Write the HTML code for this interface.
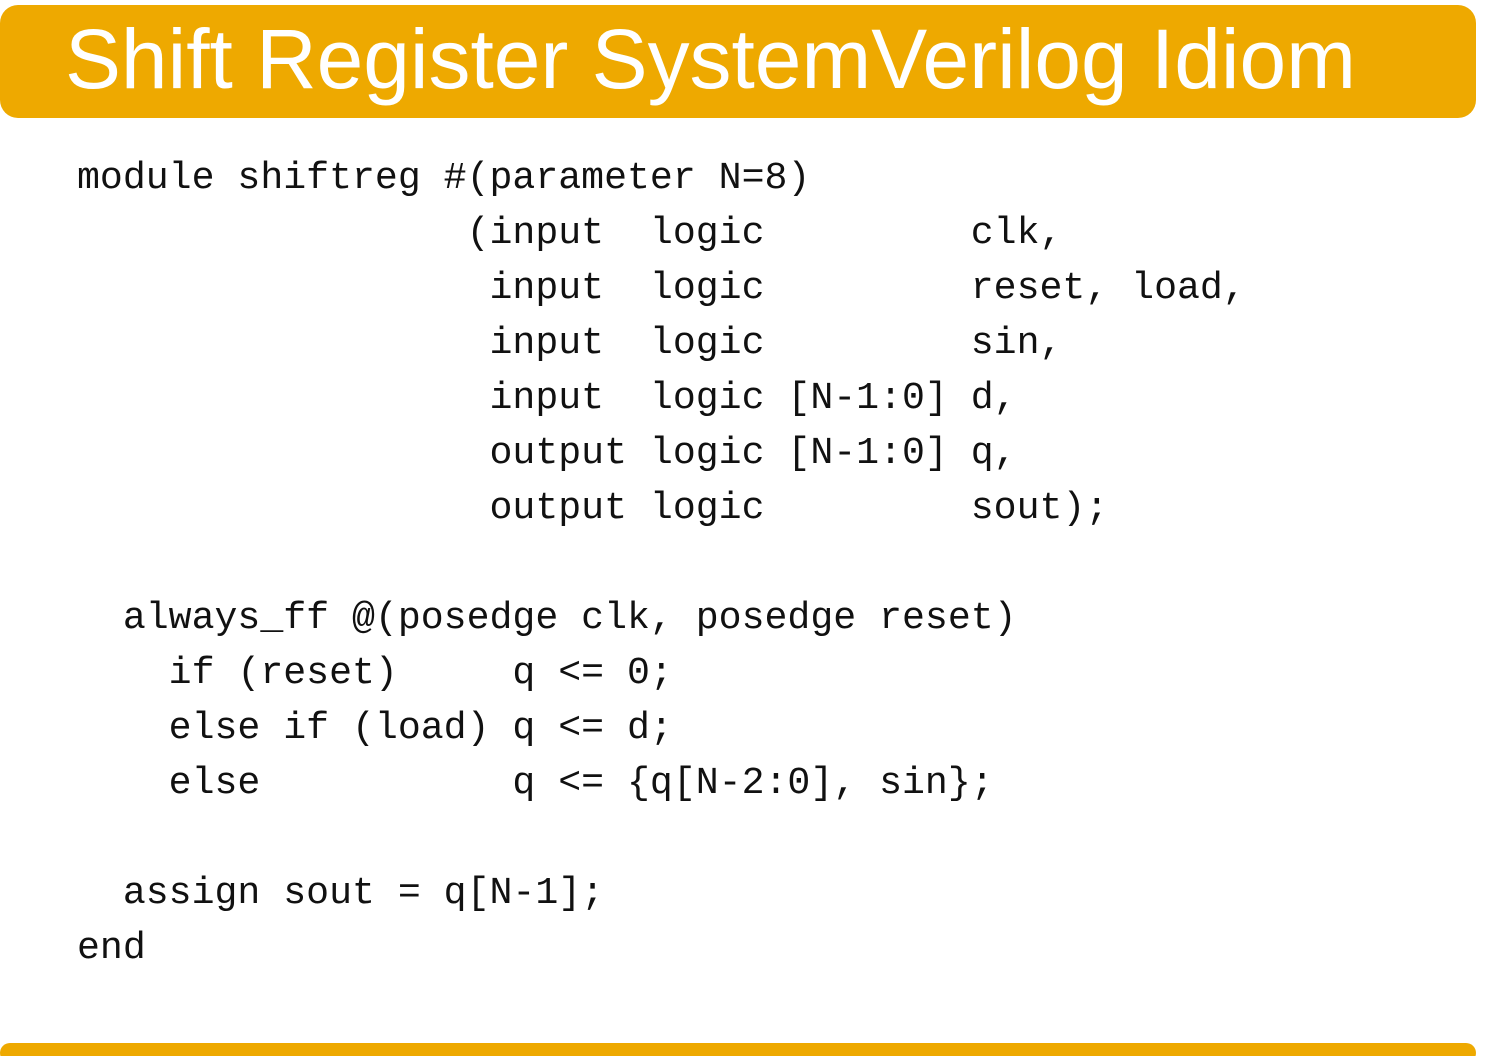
<!DOCTYPE html>
<html><head><meta charset="utf-8"><style>
html,body{margin:0;padding:0;background:#fff;width:1486px;height:1056px;overflow:hidden;position:relative}
.hdr{position:absolute;left:0;top:5px;width:1476px;height:113px;background:#EEA900;border-radius:18px}
.bar{position:absolute;left:0;top:1043px;width:1476px;height:20px;background:#EEA900;border-radius:12px}
pre{position:absolute;left:77px;top:151px;margin:0;font-family:"Liberation Mono",monospace;font-size:38.2px;line-height:55px;color:#111}
</style></head><body>
<div class="hdr"></div>
<svg style="position:absolute;left:0;top:0" width="1486" height="120">
<text x="65" y="88" font-family="Liberation Sans, sans-serif" font-size="84" fill="#fff" textLength="1291" lengthAdjust="spacingAndGlyphs">Shift Register SystemVerilog Idiom</text>
</svg>
<pre>module shiftreg #(parameter N=8)
                 (input  logic         clk,
                  input  logic         reset, load,
                  input  logic         sin,
                  input  logic [N-1:0] d,
                  output logic [N-1:0] q,
                  output logic         sout);

  always_ff @(posedge clk, posedge reset)
    if (reset)     q &lt;= 0;
    else if (load) q &lt;= d;
    else           q &lt;= {q[N-2:0], sin};

  assign sout = q[N-1];
end</pre>
<div class="bar"></div>
</body></html>
